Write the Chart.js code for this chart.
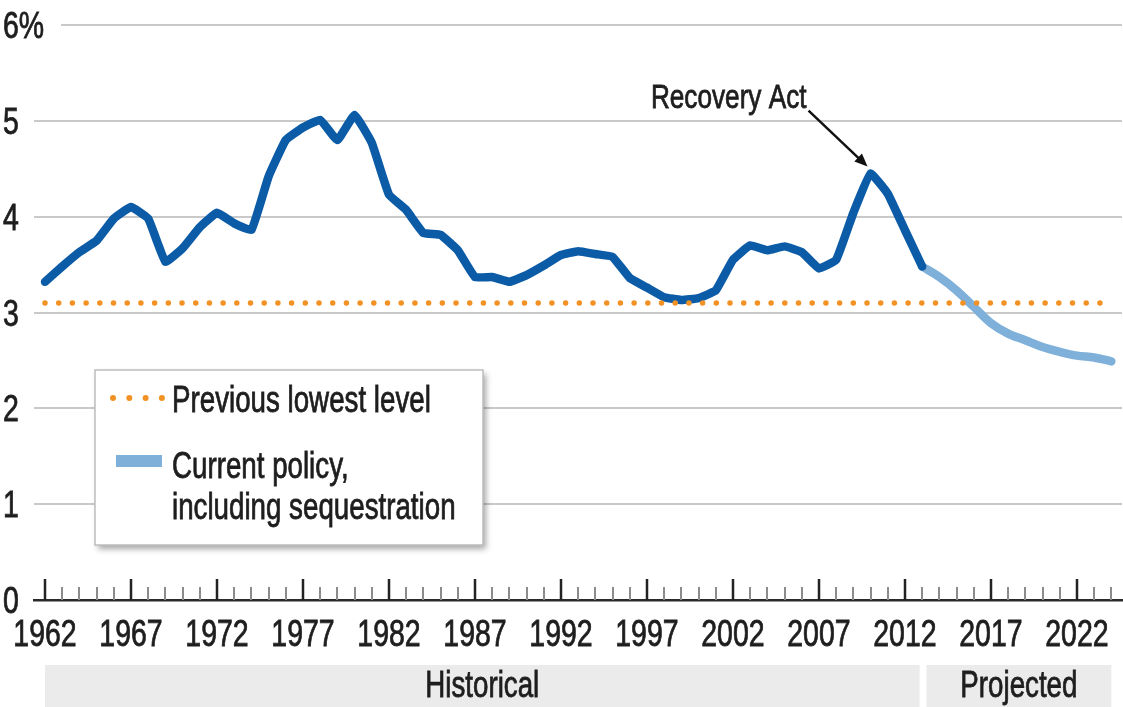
<!DOCTYPE html>
<html>
<head>
<meta charset="utf-8">
<script src="https://cdn.jsdelivr.net/npm/chart.js@4.4.1/dist/chart.umd.min.js"></script>
<style>
  html, body { margin: 0; padding: 0; background: #fff; }
  #wrap { width: 1123px; height: 707px; }
</style>
</head>
<body>
<div id="wrap"><canvas id="chart" width="1123" height="707"></canvas></div>
<script>
// Historical series (dark blue)
const histYears = [1962, 1963, 1964, 1965, 1966, 1967, 1968, 1969, 1970, 1971,
    1972, 1973, 1974, 1975, 1976, 1977, 1978, 1979, 1980, 1981,
    1982, 1983, 1984, 1985, 1986, 1987, 1988, 1989, 1990, 1991,
    1992, 1993, 1994, 1995, 1996, 1997, 1998, 1999, 2000, 2001,
    2002, 2003, 2004, 2005, 2006, 2007, 2008, 2009, 2010, 2011,
    2012, 2013];
const histValues = [3.32, 3.48, 3.63, 3.75, 3.98, 4.10, 3.98, 3.53, 3.67, 3.89,
    4.04, 3.93, 3.86, 4.42, 4.80, 4.93, 5.01, 4.80, 5.06, 4.77,
    4.23, 4.07, 3.83, 3.81, 3.65, 3.37, 3.37, 3.32, 3.39, 3.49,
    3.60, 3.64, 3.61, 3.58, 3.36, 3.26, 3.16, 3.13, 3.15, 3.23,
    3.55, 3.70, 3.65, 3.69, 3.63, 3.46, 3.55, 4.04, 4.45, 4.24,
    3.86, 3.48];

// Projection, current policy incl. sequestration (light blue)
const projYears = [2013, 2014, 2015, 2016, 2017, 2018, 2019, 2020, 2021, 2022, 2023, 2024];
const projValues = [3.48, 3.37, 3.23, 3.06, 2.89, 2.78, 2.71, 2.64, 2.59, 2.55, 2.53, 2.49];

// Previous lowest level (orange dotted)
const lowestYears = [1962, 2024];
const lowestLevel = 3.1;

// Axis labels
const xTickYears = [1962, 1967, 1972, 1977, 1982, 1987, 1992, 1997, 2002, 2007, 2012, 2017, 2022];
const yTickLabels = ['0', '1', '2', '3', '4', '5', '6%'];

// Period bands under the axis
const bandLabels = ['Historical', 'Projected'];
const bandFrom = [1962, 2013.25];
const bandTo = [2012.85, 2024];

const legendLabels = [['Previous lowest level'], ['Current policy,', 'including sequestration']];
const annotationText = 'Recovery Act';
const annotationYear = 2010;

const FONT = '"Liberation Sans", Arial, sans-serif';
const SQUEEZE = 0.77; // narrow the text like the condensed face of the original
const DARK_BLUE = '#0b5ba6';
const LIGHT_BLUE = '#7fb0d9';
const ORANGE = '#f29224';
const TEXT = '#1e1e1e';

// draw condensed text, a little heavier than regular
function narrowText(ctx, text, x, y, size, align) {
    ctx.save();
    ctx.font = size + 'px ' + FONT;
    ctx.textAlign = align || 'left';
    ctx.textBaseline = 'alphabetic';
    ctx.fillStyle = TEXT;
    ctx.strokeStyle = TEXT;
    ctx.lineWidth = 0.8;
    ctx.translate(x, y);
    ctx.scale(SQUEEZE, 1);
    ctx.fillText(text, 0, 0);
    ctx.strokeText(text, 0, 0);
    ctx.restore();
}

// axis labels and year tick marks pointing up from the axis
const axisLabels = {
    id: 'axisLabels',
    afterDraw(chart) {
        const ctx = chart.ctx;
        const xs = chart.scales.x;
        const ys = chart.scales.y;
        const base = ys.getPixelForValue(0);
        const first = histYears[0];
        const last = projYears[projYears.length - 1];
        ctx.save();
        for (let yr = first; yr <= last; yr++) {
            const major = (yr - first) % 5 === 0;
            const px = Math.round(xs.getPixelForValue(yr));
            ctx.strokeStyle = major ? '#222' : '#8c8c8c';
            ctx.lineWidth = major ? 2.5 : 2;
            ctx.beginPath();
            ctx.moveTo(px, base);
            ctx.lineTo(px, base - (major ? 21 : 13));
            ctx.stroke();
        }
        xTickYears.forEach(yr => {
            narrowText(ctx, String(yr), xs.getPixelForValue(yr), base + 46, 37, 'center');
        });
        yTickLabels.forEach((label, i) => {
            narrowText(ctx, label, 3, ys.getPixelForValue(i) + 13, 37, 'left');
        });
        ctx.restore();
    }
};

// gap in the top gridline next to "6%"
const topGap = {
    id: 'topGap',
    beforeDatasetsDraw(chart) {
        const ctx = chart.ctx;
        const y6 = chart.scales.y.getPixelForValue(6);
        ctx.save();
        ctx.fillStyle = '#fff';
        ctx.fillRect(chart.chartArea.left - 2, y6 - 3, 63 - chart.chartArea.left, 6);
        ctx.restore();
    }
};

// Historical / Projected bands
const periodBands = {
    id: 'periodBands',
    afterDraw(chart) {
        const ctx = chart.ctx;
        const xs = chart.scales.x;
        ctx.save();
        bandLabels.forEach((label, i) => {
            const x0 = xs.getPixelForValue(bandFrom[i]);
            const x1 = xs.getPixelForValue(bandTo[i]);
            ctx.fillStyle = '#ebebeb';
            ctx.fillRect(x0, 665, x1 - x0, 42);
            narrowText(ctx, label, (x0 + x1) / 2, 697, 36, 'center');
        });
        ctx.restore();
    }
};

// legend box inside the plot
const legendBox = {
    id: 'legendBox',
    afterDraw(chart) {
        const ctx = chart.ctx;
        ctx.save();
        ctx.shadowColor = 'rgba(0,0,0,0.35)';
        ctx.shadowBlur = 6;
        ctx.shadowOffsetX = 3;
        ctx.shadowOffsetY = 4;
        ctx.fillStyle = '#fff';
        ctx.fillRect(95, 370, 388, 175);
        ctx.shadowColor = 'transparent';
        ctx.strokeStyle = '#bdbdbd';
        ctx.lineWidth = 1.5;
        ctx.strokeRect(95, 370, 388, 175);

        // orange dots
        ctx.fillStyle = ORANGE;
        for (let i = 0; i < 4; i++) {
            ctx.beginPath();
            ctx.arc(113 + i * 16.3, 398, 3, 0, Math.PI * 2);
            ctx.fill();
        }
        // light blue swatch
        ctx.fillStyle = LIGHT_BLUE;
        ctx.fillRect(116, 455, 46, 12);

        narrowText(ctx, legendLabels[0][0], 172, 412, 36);
        narrowText(ctx, legendLabels[1][0], 172, 478, 36);
        narrowText(ctx, legendLabels[1][1], 172, 519, 36);
        ctx.restore();
    }
};

// "Recovery Act" arrow
const recoveryNote = {
    id: 'recoveryNote',
    afterDatasetsDraw(chart) {
        const ctx = chart.ctx;
        const idx = histYears.indexOf(annotationYear);
        const pt = chart.getDatasetMeta(1).data[idx];
        const px = pt.x, py = pt.y;
        ctx.save();
        narrowText(ctx, annotationText, px - 64, py - 66, 34, 'right');

        const x0 = px - 62, y0 = py - 63;
        const x1 = px - 3, y1 = py - 7;
        const ang = Math.atan2(y1 - y0, x1 - x0);
        ctx.strokeStyle = '#111';
        ctx.lineWidth = 2.5;
        ctx.beginPath();
        ctx.moveTo(x0, y0);
        ctx.lineTo(x1 - 8 * Math.cos(ang), y1 - 8 * Math.sin(ang));
        ctx.stroke();
        ctx.fillStyle = '#111';
        ctx.beginPath();
        ctx.moveTo(x1, y1);
        ctx.lineTo(x1 - 13 * Math.cos(ang) + 5.5 * Math.sin(ang), y1 - 13 * Math.sin(ang) - 5.5 * Math.cos(ang));
        ctx.lineTo(x1 - 13 * Math.cos(ang) - 5.5 * Math.sin(ang), y1 - 13 * Math.sin(ang) + 5.5 * Math.cos(ang));
        ctx.closePath();
        ctx.fill();
        ctx.restore();
    }
};

const chart = new Chart(document.getElementById('chart').getContext('2d'), {
    type: 'line',
    data: {
        datasets: [
            {
                label: legendLabels[0][0],
                data: lowestYears.map(yr => ({ x: yr, y: lowestLevel })),
                borderColor: ORANGE,
                borderWidth: 5.5,
                borderDash: [0, 13.7],
                borderCapStyle: 'round',
                pointRadius: 0
            },
            {
                label: 'Historical',
                data: histYears.map((yr, i) => ({ x: yr, y: histValues[i] })),
                borderColor: DARK_BLUE,
                borderWidth: 8.5,
                tension: 0.1,
                borderJoinStyle: 'round',
                borderCapStyle: 'round',
                pointRadius: 0
            },
            {
                label: legendLabels[1].join(' '),
                data: projYears.map((yr, i) => ({ x: yr, y: projValues[i] })),
                borderColor: LIGHT_BLUE,
                borderWidth: 8.5,
                tension: 0.35,
                borderJoinStyle: 'round',
                borderCapStyle: 'round',
                pointRadius: 0
            }
        ]
    },
    options: {
        responsive: false,
        animation: false,
        layout: { padding: { top: 25, left: 3, right: 1, bottom: 0 } },
        plugins: {
            legend: { display: false },
            tooltip: { enabled: false }
        },
        scales: {
            x: {
                type: 'linear',
                min: 1961.36,
                max: 2024.62,
                afterBuildTicks: s => { s.ticks = xTickYears.map(v => ({ value: v })); },
                afterFit: s => { s.height = 107; },
                grid: { display: false, drawTicks: false },
                border: { display: true, color: '#2a2a2a', width: 2.5 },
                ticks: { display: false }
            },
            y: {
                min: 0,
                max: 6,
                afterBuildTicks: s => { s.ticks = yTickLabels.map((l, i) => ({ value: i })); },
                afterFit: s => { s.width = 31; },
                grid: { color: '#c9c9c9', lineWidth: 2, drawTicks: false },
                border: { display: false },
                ticks: { display: false }
            }
        }
    },
    plugins: [topGap, axisLabels, periodBands, legendBox, recoveryNote]
});
</script>
</body>
</html>
